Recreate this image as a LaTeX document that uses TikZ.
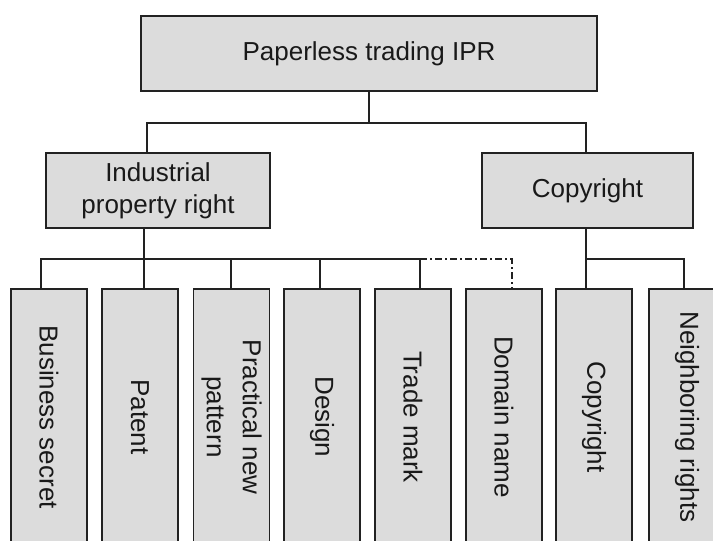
\documentclass[tikz,border=0pt]{standalone}
\usepackage{fontspec}
\setmainfont{Liberation Sans}
\definecolor{boxfill}{HTML}{DCDCDC}
\definecolor{edge}{HTML}{222222}
\begin{document}
\begin{tikzpicture}[x=1pt,y=-1pt,
  box/.style={draw=edge, fill=boxfill, line width=1.6pt, inner sep=0pt, align=center,
    font=\fontsize{26}{32}\selectfont, text=black!90},
  vbox/.style={box, rotate=-90, minimum width=256pt, minimum height=76pt},
  conn/.style={draw=edge, line width=1.6pt},
  dashconn/.style={conn, dash pattern=on 7pt off 3pt on 2pt off 3pt}]
\useasboundingbox (0,0) rectangle (713,541);
\clip (0,0) rectangle (713,541);
\fill[white] (0,0) rectangle (713,541);
% top level
\node[box, minimum width=456pt, minimum height=75pt] (top) at (369,53.5) {Paperless trading IPR};
\node[box, minimum width=224pt, minimum height=75pt] (ind) at (158,190.5) {Industrial\\property right};
\node[box, minimum width=211pt, minimum height=75pt] (cop) at (587.5,190.5) {Copyright};
% bottom boxes
\node[vbox] (b1) at (49,417) {Business secret};
\node[vbox] (b2) at (140,417) {Patent};
\node[vbox, font=\fontsize{26}{36}\selectfont] (b3) at (231.5,417) {Practical new\\pattern};
\node[vbox] (b4) at (322,417) {Design};
\node[vbox] (b5) at (413,417) {Trade mark};
\node[vbox] (b6) at (504,417) {Domain name};
\node[vbox] (b7) at (594,417) {Copyright};
\node[vbox] (b8) at (687,417) {Neighboring rights};
% junctions
\coordinate (lj) at (147,123);
\coordinate (rj) at (586,123);
\coordinate (j1) at (41,259);
\coordinate (j2) at (144,259);
\coordinate (j3) at (231,259);
\coordinate (j4) at (320,259);
\coordinate (j5) at (420,259);
\coordinate (j6) at (512,259);
\coordinate (j7) at (586,259);
\coordinate (j8) at (684,259);
% connectors
\draw[conn] (top.south) -- (top.south |- lj);
\draw[conn] (lj |- ind.north) -- (lj) -- (rj) -- (rj |- cop.north);
\draw[conn] (j2 |- ind.south) -- (j2);
\draw[conn] (j1 |- b1.west) -- (j1) -- (j5) -- (j5 |- b5.west);
\draw[conn] (j2) -- (j2 |- b2.west);
\draw[conn] (j3) -- (j3 |- b3.west);
\draw[conn] (j4) -- (j4 |- b4.west);
\draw[dashconn] (j5) -- (j6) -- (j6 |- b6.west);
\draw[conn] (j7 |- cop.south) -- (j7 |- b7.west);
\draw[conn] (j7) -- (j8) -- (j8 |- b8.west);
\end{tikzpicture}
\end{document}
